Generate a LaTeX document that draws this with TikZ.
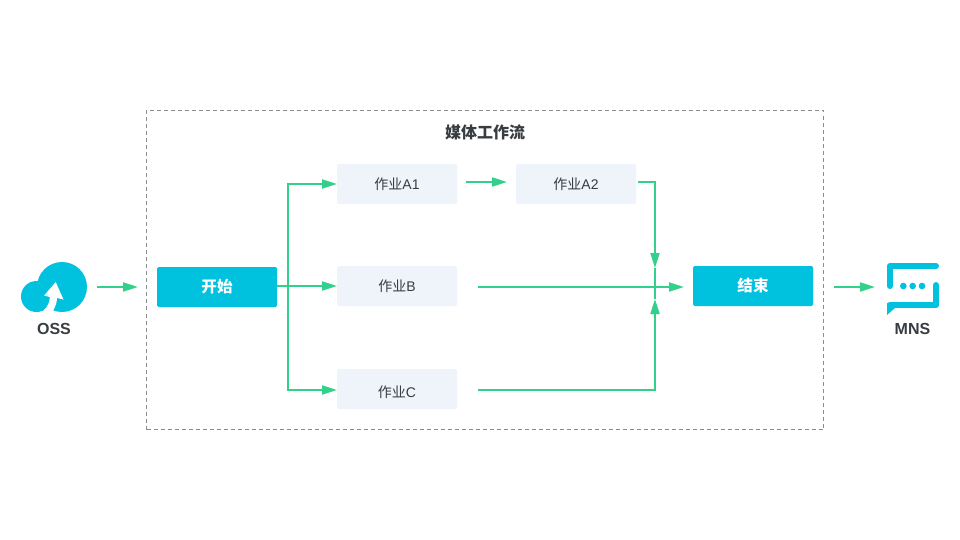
\documentclass[tikz,border=0pt]{standalone}
\usepackage{fontspec}
\setmainfont{Liberation Sans}
\newfontfamily\cjk{Noto Sans CJK SC}
\usetikzlibrary{arrows.meta}
\definecolor{cy}{HTML}{00C1DE}
\definecolor{gr}{HTML}{33D08C}
\definecolor{bx}{HTML}{EFF3FA}
\definecolor{tx}{HTML}{373D41}
\tikzset{
 x=1pt,y=-1pt,
 every node/.style={inner sep=0pt,outer sep=0pt},
 job/.style={fill=bx,rounded corners=1.5pt,minimum width=120pt,minimum height=40pt,text=tx,font=\fontsize{14}{16}\selectfont},
 jobtext/.style={text=tx,font=\fontsize{14}{16}\selectfont},
 act/.style={fill=cy,rounded corners=1.5pt,minimum width=120pt,minimum height=40pt,text=white,font=\fontsize{15.6}{17}\selectfont\cjk\bfseries},
 lbl/.style={text=tx,font=\fontsize{16}{18}\selectfont\bfseries},
 flow/.style={draw=gr,line width=2pt,-{Triangle[length=15pt,width=9pt]}},
 plain/.style={draw=gr,line width=2pt},
}
\begin{document}
\begin{tikzpicture}
\useasboundingbox (0,0) rectangle (960,540);
\fill[white] (0,0) rectangle (960,540);
\node[draw=black!45,dash pattern=on 4pt off 3pt,line width=1pt,minimum width=677pt,minimum height=319pt] (wf) at (485,270) {};
\node[text=tx,font=\fontsize{16}{18}\selectfont\cjk\bfseries] (title) at (485,132) {媒体工作流};
\node[act] (start) at (217,287) {开始};
\node[act] (end) at (753,286) {结束};
\node[job] (a1) at (397,184) {{\cjk 作业}A1};
\node[job] (a2) at (576,184) {{\cjk 作业}A2};
\node[job] (b) at (397,286) {{\cjk 作业}B};
\node[job] (c) at (397,389) {};
\node[jobtext] (ctext) at (397,392) {{\cjk 作业}C};
% OSS icon
\fill[cy] (62,287) circle (25);
\fill[cy] (36.5,296.5) circle (15.5);
\fill[white] (55.7,282) -- (63.5,299.5) -- (57,298) .. controls (57,303) and (55,308) .. (51.5,313) -- (44,313) -- (44,310) .. controls (47.5,307) and (49.8,302) .. (49.8,297) -- (44.2,295.5) -- cycle;
\node[lbl] (oss) at (54,329) {OSS};
% MNS icon
\draw[cy,line width=6pt,line cap=round,line join=round] (890,286) -- (890,266) -- (936,266);
\draw[cy,line width=6pt,line cap=round,line join=round] (936,285) -- (936,305) -- (890,305);
\fill[cy] (887,303) -- (895,303) -- (895,308) -- (887,315) -- cycle;
\fill[cy] (903.3,286) circle (3.3) (912.7,286) circle (3.3) (922,286) circle (3.3);
\node[lbl] (mns) at (912.5,329) {MNS};
% free ends
\coordinate (ossout) at (97,287);
\coordinate (wfin) at (138,287);
\coordinate (endout) at (834,287);
\coordinate (mnsin) at (875,287);
\coordinate (a1out) at (466,182);
\coordinate (a2in) at (507,182);
\coordinate (a2out) at (638,182);
\coordinate (bout) at (478,287);
\coordinate (cout) at (478,390);
\coordinate (bus) at (288,286);
\coordinate (a1in) at (337,184);
\coordinate (bin) at (337,286);
\coordinate (cin) at (337,390);
\coordinate (endin) at (684,287);
\coordinate (downtip) at (655,268);
\coordinate (uptip) at (655,299);
\draw[plain] (downtip) -- (uptip);
\draw[flow] (bus) |- (a1in);
\draw[flow] (bus) |- (cin);
\draw[flow] (start.east |- bin) -- (bin);
\draw[flow] (a1out) -- (a2in);
\draw[flow] (bout) -- (endin);
\draw[flow] (a2out) -| (downtip);
\draw[flow] (cout) -| (uptip);
\draw[flow] (ossout) -- (wfin);
\draw[flow] (endout) -- (mnsin);
\end{tikzpicture}
\end{document}
